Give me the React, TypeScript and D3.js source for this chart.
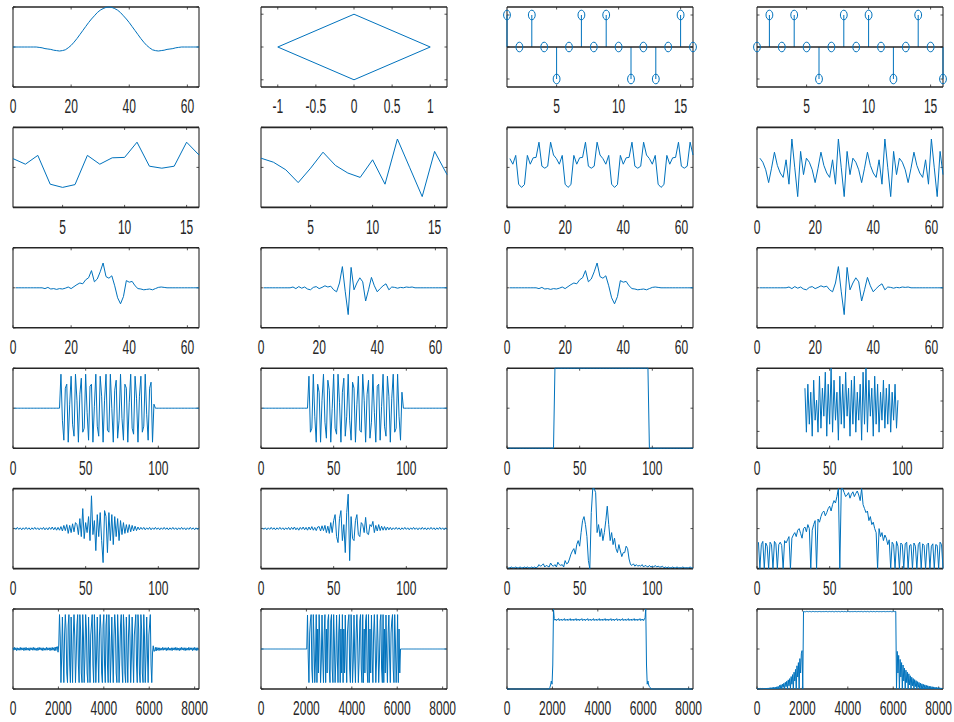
import React from 'react';
import * as d3 from 'd3';

// ---------------- DATA ----------------
// Row 1
const PULSE = [0,0,0,0,0,0,0,0,0,-0.01,-0.02,-0.04,-0.05,-0.06,-0.08,-0.09,-0.1,-0.09,-0.07,-0.02,0.04,0.12,0.21,0.31,0.41,0.51,0.61,0.7,0.78,0.86,0.92,0.96,0.99,1,0.99,0.96,0.92,0.86,0.78,0.7,0.61,0.51,0.41,0.31,0.21,0.12,0.04,-0.02,-0.07,-0.09,-0.1,-0.09,-0.08,-0.06,-0.05,-0.04,-0.02,-0.01,0,0,0,0,0,0,0];
const DIAMOND_X = [-1, 0, 1, 0, -1];
const DIAMOND_Y = [0, 1, 0, -1, 0];
const SYM_A = [1,0,1,0,-1,0,1,0,1,0,-1,0,-1,0,1,0];
const SYM_B = [0,1,0,1,0,-1,0,1,0,1,0,-1,0,1,0,-1];

// Row 2
const IFFT_A = [0.22,0.08,0.3,-0.42,-0.5,-0.43,0.3,0.08,0.24,0.25,0.63,0.03,-0.02,0.03,0.63,0.31];
const IFFT_B = [0.23,0.13,-0.06,-0.38,-0.02,0.38,0.05,-0.14,-0.25,0.19,-0.42,0.71,-0.01,-0.73,0.4,-0.18];
const CP_A = [
  0.22,0.08,0.3,-0.42,-0.5,-0.43,0.3,0.08,0.24,0.25,0.63,0.03,-0.02,0.03,0.63,0.31,
  0.22,0.08,0.3,-0.42,-0.5,-0.43,0.3,0.08,0.24,0.25,0.63,0.03,-0.02,0.03,0.63,0.31,
  0.22,0.08,0.3,-0.42,-0.5,-0.43,0.3,0.08,0.24,0.25,0.63,0.03,-0.02,0.03,0.63,0.31,
  0.22,0.08,0.3,-0.42,-0.5,-0.43,0.3,0.08,0.24,0.25,0.63,0.03,-0.02,0.03,0.63,0.31];
const CP_B = [
  0.23,0.13,-0.06,-0.38,-0.02,0.38,0.05,-0.14,-0.25,0.19,-0.42,0.71,-0.01,-0.73,0.4,-0.18,
  0.23,0.13,-0.06,-0.38,-0.02,0.38,0.05,-0.14,-0.25,0.19,-0.42,0.71,-0.01,-0.73,0.4,-0.18,
  0.23,0.13,-0.06,-0.38,-0.02,0.38,0.05,-0.14,-0.25,0.19,-0.42,0.71,-0.01,-0.73,0.4,-0.18,
  0.23,0.13,-0.06,-0.38,-0.02,0.38,0.05,-0.14,-0.25,0.19,-0.42,0.71,-0.01,-0.73,0.4,-0.18];

// Row 3
const SHAPED_A = [0,0,0,0,0,0,0,0,0,
  0,-0.02,0.01,-0.03,-0.02,-0.04,-0.02,-0.03,-0.01,0.02,-0.02,0.03,0.08,0.12,0.1,0.2,0.25,0.43,0.15,0.22,0.4,0.62,0.28,0.24,0.3,0.05,-0.25,-0.4,-0.22,0.18,0.14,0.16,0.05,-0.02,-0.03,-0.05,-0.04,-0.03,-0.05,-0.02,0.01,0.02,0.01,
  0,0,0,0,0,0,0,0,0,0,0,0];
const SHAPED_B = [0,0,0,0,0,0,0,0,0,0,
  0.02,-0.02,0.03,-0.01,0.02,-0.03,-0.05,0.01,0.03,-0.02,0.01,0.05,0.02,0.04,-0.05,-0.1,0.12,0.53,-0.1,-0.67,0.51,-0.05,0.12,0.25,0.15,-0.33,-0.05,0.26,0.05,-0.1,-0.02,0.05,0.1,-0.05,0.02,0.01,-0.01,0.01,0,0.02,0.01,0.02,0,
  0,0,0,0,0,0,0,0,0,0,0];

// Row 4
const MOD_A = [0,0,0,0,0,0,0,0,0,0,0,0,0,0,0,0,0,0,0,0,0,0,0,0,0,0,0,0,0,0,0,0,
  0.85,-0.3,-0.8,0.5,0.6,-0.85,0.1,0.8,-0.4,-0.7,0.85,0.2,-0.85,0.35,0.75,-0.6,-0.5,0.85,-0.1,-0.8,0.55,0.6,-0.85,0.05,0.85,-0.45,-0.7,0.8,0.3,-0.85,0.2,0.85,-0.55,-0.6,0.85,0,-0.85,0.45,0.7,-0.75,-0.3,0.85,-0.25,-0.8,0.6,0.5,-0.85,0.15,0.85,-0.5,-0.65,0.8,0.25,-0.85,0.3,0.8,-0.6,-0.45,0.85,-0.15,-0.8,0.5,0.65,-0.85,0.1,
  0,0,0,0,0,0,0,0,0,0,0,0,0,0,0,0,0,0,0,0,0,0,0,0,0,0,0,0,0,0,0];
const MOD_B = [0,0,0,0,0,0,0,0,0,0,0,0,0,0,0,0,0,0,0,0,0,0,0,0,0,0,0,0,0,0,0,0,
  0.8,-0.6,-0.5,0.85,-0.2,-0.85,0.6,0.4,-0.85,0.2,0.85,-0.35,-0.75,0.7,0.45,-0.85,0,0.85,-0.5,-0.65,0.85,0.15,-0.85,0.4,0.75,-0.7,-0.2,0.85,-0.3,-0.8,0.65,0.5,-0.85,0.1,0.8,-0.55,-0.6,0.85,0.2,-0.85,0.35,0.7,-0.75,-0.35,0.85,-0.1,-0.85,0.55,0.6,-0.8,0.05,0.85,-0.45,-0.7,0.8,0.3,-0.85,0.25,0.85,-0.6,-0.5,0.85,-0.2,-0.8,0.4,
  0,0,0,0,0,0,0,0,0,0,0,0,0,0,0,0,0,0,0,0,0,0,0,0,0,0,0,0,0,0,0];
const ENV_RECT = [0,0,0,0,0,0,0,0,0,0,0,0,0,0,0,0,0,0,0,0,0,0,0,0,0,0,0,0,0,0,0,0,
  1,1,1,1,1,1,1,1,1,1,1,1,1,1,1,1,1,1,1,1,1,1,1,1,1,1,1,1,1,1,1,1,1,1,1,1,1,1,1,1,1,1,1,1,1,1,1,1,1,1,1,1,1,1,1,1,1,1,1,1,1,1,1,1,1,
  0,0,0,0,0,0,0,0,0,0,0,0,0,0,0,0,0,0,0,0,0,0,0,0,0,0,0,0,0,0,0];
const N = null;
const PHASE = [N,N,N,N,N,N,N,N,N,N,N,N,N,N,N,N,N,N,N,N,N,N,N,N,N,N,N,N,N,N,N,N,
  0.75,0.2,0.8,0.3,0.7,0.15,0.85,0.35,0.6,0.2,
  0.9,0.25,0.75,0.4,0.95,0.15,0.8,0.3,1.0,0.2,
  0.85,0.35,0.7,0.1,0.9,0.3,0.8,0.25,0.95,0.4,
  0.75,0.15,0.85,0.3,0.9,0.2,0.7,0.35,0.8,0.1,
  0.95,0.3,1.0,0.2,0.85,0.4,0.75,0.15,0.9,0.3,
  0.8,0.2,0.7,0.35,0.85,0.25,0.75,0.3,0.8,0.2,
  0.7,0.35,0.8,0.25,0.6,
  N,N,N,N,N,N,N,N,N,N,N,N,N,N,N,N,N,N,N,N,N,N,N,N,N,N,N,N,N,N,N];

// Row 5
const RX_A = [
  0.02,-0.02,0.03,-0.02,0.02,-0.03,0.02,-0.02,0.03,-0.02,0.02,-0.03,0.02,-0.02,0.03,-0.02,0.02,-0.03,0.02,-0.02,
  0.03,-0.03,0.02,-0.03,0.03,-0.02,0.04,-0.03,0.03,-0.04,
  0.03,-0.04,0.05,-0.06,0.08,-0.05,0.1,-0.12,0.08,-0.1,0.12,-0.08,0.15,
  0.1,-0.15,0.25,-0.2,0.5,-0.25,0.15,-0.1,0.3,-0.3,0.82,-0.15,0.2,-0.55,0.35,-0.2,0.4,-0.3,-0.85,0.45,0.3,-0.6,0.4,-0.3,0.35,-0.4,0.3,-0.2,0.25,-0.3,0.2,-0.15,0.15,-0.12,0.1,-0.1,0.1,-0.08,0.08,-0.06,0.06,-0.05,0.04,
  -0.03,0.03,-0.02,0.03,-0.03,0.02,-0.02,0.03,-0.03,0.02,-0.02,0.03,-0.02,0.02,-0.03,0.02,-0.02,0.03,-0.02,0.02,
  -0.03,0.02,-0.02,0.03,-0.02,0.02,-0.03,0.02,-0.02,0.03,-0.02,0.02,-0.03,0.02,-0.02,0.03,-0.02,0.02,-0.03,0.02,-0.02,0.02];
const RX_B = [
  0.02,-0.02,0.02,-0.03,0.02,-0.02,0.03,-0.02,0.02,-0.03,0.02,-0.02,0.03,-0.02,0.02,-0.03,0.02,-0.02,0.03,-0.03,
  0.03,-0.02,0.04,-0.03,0.02,-0.04,0.03,-0.02,0.04,-0.03,0.03,-0.04,0.04,-0.03,0.05,-0.04,0.03,-0.05,0.04,
  0.05,-0.06,0.07,-0.05,0.08,-0.1,0.06,-0.12,0.15,-0.1,0.2,0.35,-0.2,-0.35,0.25,0.45,-0.3,0.1,-0.6,0.4,
  0.86,-0.8,0.3,-0.25,-0.3,0.2,0.35,-0.15,-0.2,0.15,0.1,-0.1,0.28,-0.12,-0.15,0.1,0.05,0.18,-0.1,0.08,
  -0.06,0.1,-0.05,0.06,-0.04,0.05,-0.04,0.04,-0.03,0.03,
  -0.03,0.02,-0.02,0.03,-0.02,0.02,-0.03,0.02,-0.02,0.03,-0.02,0.02,-0.03,0.02,-0.02,0.03,-0.02,0.02,-0.03,0.02,
  -0.02,0.03,-0.02,0.02,-0.03,0.02,-0.02,0.03,-0.02,0.02,-0.03,0.02,-0.02,0.03,-0.02,0.02,-0.03,0.02,-0.02];
const SPEC_LIN = [
  0.01,0.01,0.02,0.01,0.01,0.02,0.01,0.01,0.02,0.01,0.01,0.02,0.01,0.02,0.01,0.01,0.02,0.01,0.02,0.01,
  0.02,0.05,0.03,0.04,0.06,0.02,0.04,0.03,0.02,0.07,0.04,0.03,0.05,0.02,0.08,0.05,0.04,0.05,0.02,0.1,0.06,0.07,0.12,0.18,
  0.22,0.25,0.18,0.3,0.35,0.28,0.45,0.6,0.65,0.55,0.4,0.1,0,0.7,1,1,0.95,0.45,0.55,0.4,
  0.5,0.35,0.45,0.6,0.78,0.55,0.35,0.45,0.3,0.38,0.25,0.2,0.3,0.22,0.15,0.2,0.2,0.28,0.25,0.12,
  0.05,0.04,0.06,0.03,0.05,0.03,
  0.04,0.03,0.05,0.02,0.04,0.03,0.02,0.04,0.02,0.03,0.02,0.04,0.02,0.03,0.02,0.02,0.03,0.01,0.02,0.01,
  0.02,0.01,0.01,0.02,0.01,0.01,0.02,0.01,0.01,0.01,0.02,0.01,0.01,0.01,0.01,0.02,0.01,0.01];
const SPEC_LOG = [
  0.33,0,0.3,0.34,0,0.32,0.28,0,0.33,0.3,0,0.34,0.31,0,0.3,0.33,0.29,0,0.35,0.32,
  0.36,0.4,0,0.38,0.42,0.45,0.4,0.48,0.5,0.44,0.38,0.5,0.52,0.46,0.55,0.5,0,0.48,0.55,0.6,
  0,0.62,0.58,0.65,0.7,0.72,0.66,0.7,0.75,0.78,0.72,0.8,0.85,0.82,0.9,1,
  0,1,1,0.95,0.9,0.92,0.95,0.88,0.93,0.96,0.9,0.94,0.97,0.92,0.85,1,
  0.8,0.75,0.7,0.72,0.6,0.65,0.55,0.58,0.5,0.45,0,0.5,0.4,0.45,0.35,0.42,0.38,0.3,
  0.36,0,0.33,0.3,0,0.34,0.28,0,0.32,0.3,0,0.31,0.33,0,0.29,0.3,0,0.32,0.28,0,
  0.3,0.33,0,0.31,0.29,0,0.3,0.32,0,0.28,0.31,0,0.3,0.29,0,0.33,0.3,0];

// Row 6 (one value every 32 samples)
const UP_A = [
  0.03,-0.03,0.04,-0.02,0.03,-0.04,0.03,-0.03,0.02,-0.03,0.04,-0.03,0.03,-0.02,0.03,-0.04,0.03,-0.03,0.04,-0.03,
  0.02,-0.03,0.03,-0.04,0.03,-0.02,0.03,-0.03,0.04,-0.03,0.03,-0.03,0.02,-0.04,0.03,-0.03,0.04,-0.02,0.03,-0.03,
  0.03,-0.04,0.03,-0.03,0.02,-0.03,0.04,-0.03,0.03,-0.02,0.03,-0.04,0.03,-0.03,0.04,-0.03,0.03,-0.04,0.05,-0.04,0.05,
  0.06,-0.08,0.1,
  0.86,0.3,-0.84,-0.2,0.8,-0.1,-0.84,0.35,0.86,0.5,-0.6,-0.84,0.6,0.86,-0.4,-0.84,
  0.8,-0.1,-0.84,0.35,0.86,0.3,-0.84,-0.2,0.6,0.86,-0.4,-0.84,0.86,0.5,-0.6,-0.84,
  0.86,0.3,-0.84,-0.2,0.86,0.5,-0.6,-0.84,0.8,-0.1,-0.84,0.35,0.6,0.86,-0.4,-0.84,
  0.86,0.3,-0.84,-0.2,0.8,-0.1,-0.84,0.35,0.86,0.5,-0.6,-0.84,0.6,0.86,-0.4,-0.84,
  0.6,0.86,-0.4,-0.84,0.86,0.3,-0.84,-0.2,0.8,-0.1,-0.84,0.35,0.86,0.5,-0.6,-0.84,
  0.86,0.3,-0.84,-0.2,0.6,0.86,-0.4,-0.84,0.86,0.5,-0.6,-0.84,0.8,-0.1,-0.84,0.35,
  0.86,0.3,-0.84,-0.2,0.8,-0.1,-0.84,0.35,0.6,0.86,-0.4,-0.84,0.86,0.5,-0.6,-0.84,
  0.86,0.5,-0.6,-0.84,0.86,0.3,-0.84,-0.2,0.8,-0.1,-0.84,0.35,0.6,0.86,-0.4,-0.84,
  -0.1,0.08,-0.06,
  -0.05,0.04,-0.05,0.04,-0.03,0.03,-0.04,0.03,-0.03,0.02,-0.03,0.04,-0.03,0.03,-0.02,0.03,-0.04,0.03,-0.03,0.04,
  -0.03,0.02,-0.03,0.03,-0.04,0.03,-0.02,0.03,-0.03,0.04,-0.03,0.03,-0.03,0.02,-0.04,0.03,-0.03,0.04,-0.02,0.03,
  -0.03,0.03,-0.04,0.03,-0.03,0.02,-0.03,0.04,-0.03,0.03,-0.02,0.03,-0.04,0.03,-0.03,0.04,-0.03,0.03,-0.04,0.03,-0.03];
const UP_B = [
  0,0,0,0,0,0,0,0,0,0,0,0,0,0,0,0,0,0,0,0,0,0,0,0,0,0,0,0,0,0,0,0,
  0,0,0,0,0,0,0,0,0,0,0,0,0,0,0,0,0,0,0,0,0,0,0,0,0,0,0,0,0,0,0,0,
  0.85,-0.2,-0.84,0.4,0.7,0.86,-0.5,-0.84,0.86,0.2,-0.84,-0.3,0.86,-0.84,0.5,-0.6,
  0.86,0.2,-0.84,-0.3,0.85,-0.2,-0.84,0.4,0.86,-0.84,0.5,-0.6,0.7,0.86,-0.5,-0.84,
  0.7,0.86,-0.5,-0.84,0.86,0.2,-0.84,-0.3,0.85,-0.2,-0.84,0.4,0.86,-0.84,0.5,-0.6,
  0.86,-0.84,0.5,-0.6,0.85,-0.2,-0.84,0.4,0.7,0.86,-0.5,-0.84,0.86,0.2,-0.84,-0.3,
  0.85,-0.2,-0.84,0.4,0.86,0.2,-0.84,-0.3,0.7,0.86,-0.5,-0.84,0.86,-0.84,0.5,-0.6,
  0.7,0.86,-0.5,-0.84,0.86,-0.84,0.5,-0.6,0.85,-0.2,-0.84,0.4,0.86,0.2,-0.84,-0.3,
  0.86,0.2,-0.84,-0.3,0.7,0.86,-0.5,-0.84,0.86,-0.84,0.5,-0.6,0.85,-0.2,-0.84,0.4,
  0.85,-0.2,-0.84,0.4,0.7,0.86,-0.5,-0.84,0.86,0.2,-0.84,-0.3,0.86,-0.84,0.5,-0.6,
  0,0,0,0,0,0,0,0,0,0,0,0,0,0,0,0,0,0,0,0,0,0,0,0,0,0,0,0,0,0,0,0,
  0,0,0,0,0,0,0,0,0,0,0,0,0,0,0,0,0,0,0,0,0,0,0,0,0,0,0,0,0,0,0,0];
const UP_SPEC = [
  0,0,0,0,0,0,0,0,0,0,0,0,0,0,0,0,0,0,0,0,0,0,0,0,0,0,0,0,0,0,
  0,0,0,0,0,0,0,0,0,0,0,0,0,0,0,0,0,0,0,0,0,0,0,0,0,0,0,0,0,
  0.02,0.05,0.1,0.06,0.3,
  1,0.88,
  0.86,0.875,0.855,0.87,0.865,0.88,0.855,0.87,0.86,0.875,0.855,0.87,0.865,0.88,0.855,0.87,
  0.86,0.875,0.855,0.87,0.865,0.88,0.855,0.87,0.86,0.875,0.855,0.87,0.865,0.88,0.855,0.87,
  0.86,0.875,0.855,0.87,0.865,0.88,0.855,0.87,0.86,0.875,0.855,0.87,0.865,0.88,0.855,0.87,
  0.86,0.875,0.855,0.87,0.865,0.88,0.855,0.87,0.86,0.875,0.855,0.87,0.865,0.88,0.855,0.87,
  0.86,0.875,0.855,0.87,0.865,0.88,0.855,0.87,0.86,0.875,0.855,0.87,0.865,0.88,0.855,0.87,
  0.86,0.875,0.855,0.87,0.865,0.88,0.855,0.87,0.86,0.875,0.855,0.87,0.865,0.88,0.855,0.87,
  0.86,0.875,0.855,0.87,0.865,0.88,0.855,0.87,0.86,0.875,0.855,0.87,0.865,0.88,0.855,0.87,
  0.86,0.875,0.855,0.87,0.865,0.88,0.855,0.87,0.86,0.875,0.855,0.87,
  0.89,1,
  0.3,0.06,0.1,0.05,0.03,0.02,
  0,0,0,0,0,0,0,0,0,0,0,0,0,0,0,0,0,0,0,0,0,0,0,0,0,0,0,0,0,
  0,0,0,0,0,0,0,0,0,0,0,0,0,0,0,0,0,0,0,0,0,0,0,0,0,0,0,0,0];
const UP_LOG = [
  0,0.005,0,0.006,0,0.007,0,0.008,0,0.009,0,0.01,0,0.012,0,0.013,0,0.015,0,0.017,
  0,0.019,0,0.022,0,0.024,0,0.027,0,0.033,0,0.045,0.01,0.053,0,0.06,0.02,0.072,0,0.084,
  0.03,0.098,0,0.114,0.04,0.13,0,0.155,0.06,0.18,0,0.21,0.1,0.245,0,0.29,0.15,0.33,0,0.38,
  0.2,0.44,0.48,0,
  0.97,0.966,0.968,0.965,0.97,0.967,0.969,0.966,0.97,0.966,0.968,0.965,0.97,0.967,0.969,0.966,
  0.97,0.966,0.968,0.965,0.97,0.967,0.969,0.966,0.97,0.966,0.968,0.965,0.97,0.967,0.969,0.966,
  0.97,0.966,0.968,0.965,0.97,0.967,0.969,0.966,0.97,0.966,0.968,0.965,0.97,0.967,0.969,0.966,
  0.97,0.966,0.968,0.965,0.97,0.967,0.969,0.966,0.97,0.966,0.968,0.965,0.97,0.967,0.969,0.966,
  0.97,0.966,0.968,0.965,0.97,0.967,0.969,0.966,0.97,0.966,0.968,0.965,0.97,0.967,0.969,0.966,
  0.97,0.966,0.968,0.965,0.97,0.967,0.969,0.966,0.97,0.966,0.968,0.965,0.97,0.967,0.969,0.966,
  0.97,0.966,0.968,0.965,0.97,0.967,0.969,0.966,0.97,0.966,0.968,0.965,0.97,0.967,0.969,0.966,
  0.97,0.966,0.968,0.965,0.97,0.967,0.969,0.966,0.97,0.966,0.968,0.965,0.97,0.967,0.969,0.97,
  0,0.47,0.2,0.42,0,0.37,0.15,0.33,0,0.3,0.1,0.26,0,0.235,0.08,0.21,0,0.19,0.05,0.165,
  0,0.147,0.04,0.131,0,0.117,0.03,0.104,0,0.092,0.02,0.082,0,0.073,0,0.065,0,0.058,0,0.052,
  0,0.046,0,0.041,0,0.036,0,0.032,0,0.029,0,0.026,0,0.023,0,0.02,0,0.018,0,0.016,
  0,0.014,0,0.013];

// Tick values
const TICKS_64 = [0, 20, 40, 60];
const TICKS_16 = [5, 10, 15];
const TICKS_DIAMOND = [-1, -0.5, 0, 0.5, 1];
const TICKS_128 = [0, 50, 100];
const TICKS_8192 = [0, 2000, 4000, 6000, 8000];
const YT_SYM = [-1, 0, 1];
const YT_UNIT = [0, 0.5, 1];
const YT_PHASE = [0.21, 0.59, 0.97];

// ---------------- LAYOUT / STYLE ----------------
const COL_X = [13, 261, 507, 757];
const ROW_Y = [7, 127.4, 247.8, 368.2, 488.6, 609];
const W = 186;
const H = 80;
const BLUE = '#0072BD';
const AXC = '#262626';

const seq = (start: number, step: number, n: number) => d3.range(n).map((i) => start + i * step);

type Spec = {
  row: number; col: number; kind: 'line' | 'stem';
  xs: number[]; ys: (number | null)[];
  xDomain: [number, number]; yDomain: [number, number];
  xTicks: number[]; yTicks: number[];
};

const PANELS: Spec[] = [
  { row: 0, col: 0, kind: 'line', xs: seq(0, 1, PULSE.length), ys: PULSE, xDomain: [0, 64], yDomain: [-1, 1], xTicks: TICKS_64, yTicks: YT_SYM },
  { row: 0, col: 1, kind: 'line', xs: DIAMOND_X, ys: DIAMOND_Y, xDomain: [-1.22, 1.22], yDomain: [-1.22, 1.22], xTicks: TICKS_DIAMOND, yTicks: YT_SYM },
  { row: 0, col: 2, kind: 'stem', xs: seq(1, 1, SYM_A.length), ys: SYM_A, xDomain: [1, 16], yDomain: [-1.25, 1.25], xTicks: TICKS_16, yTicks: YT_SYM },
  { row: 0, col: 3, kind: 'stem', xs: seq(1, 1, SYM_B.length), ys: SYM_B, xDomain: [1, 16], yDomain: [-1.25, 1.25], xTicks: TICKS_16, yTicks: YT_SYM },

  { row: 1, col: 0, kind: 'line', xs: seq(1, 1, IFFT_A.length), ys: IFFT_A, xDomain: [1, 16], yDomain: [-1, 1], xTicks: TICKS_16, yTicks: YT_SYM },
  { row: 1, col: 1, kind: 'line', xs: seq(1, 1, IFFT_B.length), ys: IFFT_B, xDomain: [1, 16], yDomain: [-1, 1], xTicks: TICKS_16, yTicks: YT_SYM },
  { row: 1, col: 2, kind: 'line', xs: seq(1, 1, CP_A.length), ys: CP_A, xDomain: [0, 64], yDomain: [-1, 1], xTicks: TICKS_64, yTicks: YT_SYM },
  { row: 1, col: 3, kind: 'line', xs: seq(1, 1, CP_B.length), ys: CP_B, xDomain: [0, 64], yDomain: [-1, 1], xTicks: TICKS_64, yTicks: YT_SYM },

  { row: 2, col: 0, kind: 'line', xs: seq(1, 1, SHAPED_A.length), ys: SHAPED_A, xDomain: [0, 64], yDomain: [-1, 1], xTicks: TICKS_64, yTicks: YT_SYM },
  { row: 2, col: 1, kind: 'line', xs: seq(1, 1, SHAPED_B.length), ys: SHAPED_B, xDomain: [0, 64], yDomain: [-1, 1], xTicks: TICKS_64, yTicks: YT_SYM },
  { row: 2, col: 2, kind: 'line', xs: seq(1, 1, SHAPED_A.length), ys: SHAPED_A, xDomain: [0, 64], yDomain: [-1, 1], xTicks: TICKS_64, yTicks: YT_SYM },
  { row: 2, col: 3, kind: 'line', xs: seq(1, 1, SHAPED_B.length), ys: SHAPED_B, xDomain: [0, 64], yDomain: [-1, 1], xTicks: TICKS_64, yTicks: YT_SYM },

  { row: 3, col: 0, kind: 'line', xs: seq(1, 1, MOD_A.length), ys: MOD_A, xDomain: [0, 128], yDomain: [-1, 1], xTicks: TICKS_128, yTicks: YT_SYM },
  { row: 3, col: 1, kind: 'line', xs: seq(1, 1, MOD_B.length), ys: MOD_B, xDomain: [0, 128], yDomain: [-1, 1], xTicks: TICKS_128, yTicks: YT_SYM },
  { row: 3, col: 2, kind: 'line', xs: seq(1, 1, ENV_RECT.length), ys: ENV_RECT, xDomain: [0, 128], yDomain: [0, 1], xTicks: TICKS_128, yTicks: YT_UNIT },
  { row: 3, col: 3, kind: 'line', xs: seq(1, 1, PHASE.length), ys: PHASE, xDomain: [0, 128], yDomain: [0, 1], xTicks: TICKS_128, yTicks: YT_PHASE },

  { row: 4, col: 0, kind: 'line', xs: seq(1, 1, RX_A.length), ys: RX_A, xDomain: [0, 128], yDomain: [-1, 1], xTicks: TICKS_128, yTicks: YT_SYM },
  { row: 4, col: 1, kind: 'line', xs: seq(1, 1, RX_B.length), ys: RX_B, xDomain: [0, 128], yDomain: [-1, 1], xTicks: TICKS_128, yTicks: YT_SYM },
  { row: 4, col: 2, kind: 'line', xs: seq(1, 1, SPEC_LIN.length), ys: SPEC_LIN, xDomain: [0, 128], yDomain: [0, 1], xTicks: TICKS_128, yTicks: YT_UNIT },
  { row: 4, col: 3, kind: 'line', xs: seq(1, 1, SPEC_LOG.length), ys: SPEC_LOG, xDomain: [0, 128], yDomain: [0, 1], xTicks: TICKS_128, yTicks: YT_UNIT },

  { row: 5, col: 0, kind: 'line', xs: seq(0, 32, UP_A.length), ys: UP_A, xDomain: [0, 8192], yDomain: [-1, 1], xTicks: TICKS_8192, yTicks: YT_SYM },
  { row: 5, col: 1, kind: 'line', xs: seq(0, 32, UP_B.length), ys: UP_B, xDomain: [0, 8192], yDomain: [-1, 1], xTicks: TICKS_8192, yTicks: YT_SYM },
  { row: 5, col: 2, kind: 'line', xs: seq(0, 32, UP_SPEC.length), ys: UP_SPEC, xDomain: [0, 8192], yDomain: [0, 1], xTicks: TICKS_8192, yTicks: YT_UNIT },
  { row: 5, col: 3, kind: 'line', xs: seq(0, 32, UP_LOG.length), ys: UP_LOG, xDomain: [0, 8192], yDomain: [0, 1], xTicks: TICKS_8192, yTicks: YT_UNIT },
];

function Panel({ p }: { p: Spec }) {
  const x0 = COL_X[p.col];
  const y0 = ROW_Y[p.row];
  const xs = d3.scaleLinear().domain(p.xDomain).range([x0, x0 + W]);
  const ys = d3.scaleLinear().domain(p.yDomain).range([y0 + H, y0]);
  const pts = p.xs.map((x, i) => [x, p.ys[i]] as [number, number | null]);
  const line = d3
    .line<[number, number | null]>()
    .defined((d) => d[1] !== null)
    .x((d) => xs(d[0]))
    .y((d) => ys(d[1] as number));
  const TL = 2.5;
  return (
    <g>
      <rect x={x0} y={y0} width={W} height={H} fill="#fff" />
      {/* box */}
      <line x1={x0} x2={x0 + W} y1={y0} y2={y0} stroke={AXC} strokeWidth={1.6} />
      <line x1={x0} x2={x0 + W} y1={y0 + H} y2={y0 + H} stroke={AXC} strokeWidth={1.6} />
      <line x1={x0} x2={x0} y1={y0} y2={y0 + H} stroke={AXC} strokeWidth={1.1} />
      <line x1={x0 + W} x2={x0 + W} y1={y0} y2={y0 + H} stroke={AXC} strokeWidth={1.1} />
      {/* ticks */}
      {p.xTicks.map((t) => (
        <g key={'xt' + t}>
          <line x1={xs(t)} x2={xs(t)} y1={y0 + H} y2={y0 + H - TL} stroke={AXC} strokeWidth={0.8} />
          <line x1={xs(t)} x2={xs(t)} y1={y0} y2={y0 + TL} stroke={AXC} strokeWidth={0.8} />
          <text
            transform={`translate(${xs(t)},${y0 + H + 26.3}) scale(0.86,1.4)`}
            textAnchor="middle"
            fontSize={14}
            fontFamily="'Liberation Sans', Arial, sans-serif"
            fill={AXC}
          >
            {String(t)}
          </text>
        </g>
      ))}
      {p.yTicks.map((t) => (
        <g key={'yt' + t}>
          <line x1={x0} x2={x0 + TL} y1={ys(t)} y2={ys(t)} stroke={AXC} strokeWidth={0.8} />
          <line x1={x0 + W} x2={x0 + W - TL} y1={ys(t)} y2={ys(t)} stroke={AXC} strokeWidth={0.8} />
        </g>
      ))}
      {p.kind === 'line' ? (
        <path d={line(pts) || ''} fill="none" stroke={BLUE} strokeWidth={1} strokeLinejoin="round" />
      ) : (
        <g>
          {pts.map(([x, y], i) => (
            <line key={'s' + i} x1={xs(x)} x2={xs(x)} y1={ys(0)} y2={ys(y as number)} stroke={BLUE} strokeWidth={1} />
          ))}
          <line x1={x0} x2={x0 + W} y1={ys(0)} y2={ys(0)} stroke={AXC} strokeWidth={1.4} />
          {pts.map(([x, y], i) => (
            <ellipse key={'m' + i} cx={xs(x)} cy={ys(y as number)} rx={3.4} ry={4.8} fill="none" stroke={BLUE} strokeWidth={1} />
          ))}
        </g>
      )}
    </g>
  );
}

export default function App() {
  return (
    <svg
      width={954}
      height={722}
      viewBox="0 0 954 722"
      style={{ position: 'absolute', left: 0, top: 0, background: '#fff' }}
    >
      <rect x={0} y={0} width={954} height={722} fill="#fff" />
      {PANELS.map((p, i) => (
        <Panel key={i} p={p} />
      ))}
    </svg>
  );
}
